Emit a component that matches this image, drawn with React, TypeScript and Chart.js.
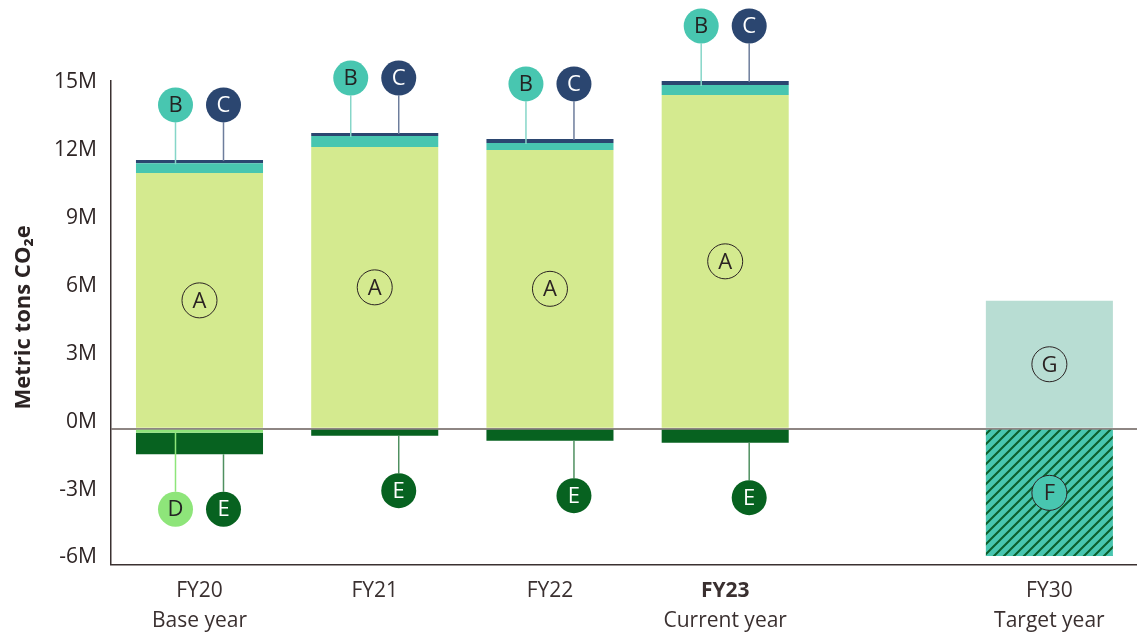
import React, { useEffect, useRef } from "react";
import { Chart, registerables } from "chart.js";

Chart.register(...registerables);

// ---------- data ----------
const categories = ["FY20", "FY21", "FY22", "FY23", "FY30"];
const subLabels = ["Base year", "", "", "Current year", "Target year"];
const emphasized = [false, false, false, true, false];
const yTitle = "Metric tons CO₂e";

// values in millions of metric tons CO2e
const seriesA = [11.3, 12.45, 12.32, 14.75, null];
const seriesB = [0.43, 0.49, 0.31, 0.44, null];
const seriesC = [0.15, 0.13, 0.18, 0.18, null];
const seriesD = [-0.18, null, null, null, null];
const seriesE = [-0.95, -0.31, -0.53, -0.62, null];
const seriesG = [null, null, null, null, 5.65];
const seriesF = [null, null, null, null, -5.63];

const yTickValues = [-6, -3, 0, 3, 6, 9, 12, 15];

// ---------- layout (slot of each category on the x axis) ----------
const xSlots = [0, 1, 2, 3, 4.85];
const X_MIN = -0.505;
const X_MAX = 5.35;
const Y_MIN = -6;
const Y_MAX = 15.4;

const FONT = "'Open Sans', 'Noto Sans', sans-serif";
const TEXT = "#2b2323";

type Marker = {
  mode: "inside" | "above" | "below";
  dx?: number;
  fill?: string | null;
  text: string;
  line?: string;
  outline?: string | null;
};

const markerStyles: Record<string, Marker> = {
  A: { mode: "inside", fill: null, text: TEXT, outline: TEXT },
  B: { mode: "above", dx: -24, fill: "#48c6b0", text: "#232323", line: "#86d6c8" },
  C: { mode: "above", dx: 24, fill: "#2b4670", text: "#ffffff", line: "#6d7d9c" },
  D: { mode: "below", dx: -24, fill: "#8ee57a", text: "#232323", line: "#8ee57a" },
  E: { mode: "below", dx: 24, fill: "#076220", text: "#ffffff", line: "#4f9060" },
  G: { mode: "inside", fill: null, text: TEXT, outline: TEXT },
  F: { mode: "inside", fill: "#48c6b0", text: TEXT, outline: TEXT },
};

const segColors: Record<string, string> = {
  A: "#d4ea8f",
  B: "#48c6b0",
  C: "#2b4670",
  D: "#8ee57a",
  E: "#076220",
  G: "#b8ddd3",
};

const MARK_R = 17.5;
const MARK_GAP = 55;

const markerPlugin = {
  id: "markers",
  afterDraw(chart: any) {
    const ctx: CanvasRenderingContext2D = chart.ctx;
    const n = categories.length;
    const tops: number[] = new Array(n).fill(Infinity);
    const bottoms: number[] = new Array(n).fill(-Infinity);
    chart.data.datasets.forEach((ds: any, di: number) => {
      const meta = chart.getDatasetMeta(di);
      meta.data.forEach((bar: any, i: number) => {
        const v = ds.data[i].y;
        if (v == null) return;
        if (v > 0) tops[i] = Math.min(tops[i], bar.y);
        else bottoms[i] = Math.max(bottoms[i], bar.y);
      });
    });

    const circles: any[] = [];
    ctx.save();
    chart.data.datasets.forEach((ds: any, di: number) => {
      const st = markerStyles[ds.label];
      const meta = chart.getDatasetMeta(di);
      meta.data.forEach((bar: any, i: number) => {
        const v = ds.data[i].y;
        if (v == null) return;
        const p = bar.getProps(["x", "y", "base"], true);
        let cx = p.x;
        let cy = (p.y + p.base) / 2;
        if (st.mode === "above") {
          cx = p.x + (st.dx || 0);
          cy = tops[i] - MARK_GAP;
          ctx.strokeStyle = st.line!;
          ctx.lineWidth = 1.5;
          ctx.beginPath();
          ctx.moveTo(cx, cy + MARK_R);
          ctx.lineTo(cx, p.y + 1);
          ctx.stroke();
        } else if (st.mode === "below") {
          cx = p.x + (st.dx || 0);
          cy = bottoms[i] + MARK_GAP;
          ctx.strokeStyle = st.line!;
          ctx.lineWidth = 1.5;
          ctx.beginPath();
          ctx.moveTo(cx, cy - MARK_R);
          ctx.lineTo(cx, p.y);
          ctx.stroke();
        }
        circles.push({ cx, cy, st, letter: ds.label });
      });
    });

    circles.forEach(({ cx, cy, st, letter }) => {
      ctx.beginPath();
      ctx.arc(cx, cy, MARK_R, 0, Math.PI * 2);
      if (st.fill) {
        ctx.fillStyle = st.fill;
        ctx.fill();
      }
      if (st.outline) {
        ctx.strokeStyle = st.outline;
        ctx.lineWidth = 1;
        ctx.stroke();
      }
      ctx.fillStyle = st.text;
      ctx.font = `22px ${FONT}`;
      ctx.textAlign = "center";
      ctx.textBaseline = "middle";
      ctx.fillText(letter, cx, cy + 1);
    });

    // category labels
    const xs = chart.scales.x;
    const bottom = chart.chartArea.bottom;
    categories.forEach((c, i) => {
      const px = xs.getPixelForValue(xSlots[i]);
      ctx.fillStyle = "#3a3030";
      ctx.textAlign = "center";
      ctx.textBaseline = "alphabetic";
      ctx.font = `${emphasized[i] ? "bold " : ""}21px ${FONT}`;
      ctx.fillText(c, px, bottom + 32.5);
      if (subLabels[i]) {
        ctx.font = `21px ${FONT}`;
        ctx.fillText(subLabels[i], px, bottom + 62.5);
      }
    });

    // y-axis title
    const { top: aTop, bottom: aBottom } = chart.chartArea;
    ctx.translate(24, (aTop + aBottom) / 2 - 5);
    ctx.rotate(-Math.PI / 2);
    ctx.fillStyle = TEXT;
    ctx.font = `bold 22px ${FONT}`;
    ctx.textAlign = "center";
    ctx.textBaseline = "middle";
    ctx.fillText(yTitle, 0, 0);
    ctx.restore();
  },
};

function makeHatch(): CanvasPattern | string {
  const tile = document.createElement("canvas");
  tile.width = 10;
  tile.height = 10;
  const t = tile.getContext("2d");
  if (!t) return "#48c6b0";
  t.fillStyle = "#48c6b0";
  t.fillRect(0, 0, 10, 10);
  t.strokeStyle = "#0b5e2c";
  t.lineWidth = 2;
  t.beginPath();
  t.moveTo(0, 10);
  t.lineTo(10, 0);
  t.moveTo(-5, 5);
  t.lineTo(5, -5);
  t.moveTo(5, 15);
  t.lineTo(15, 5);
  t.stroke();
  return t.createPattern(tile, "repeat") || "#48c6b0";
}

export default function App() {
  const canvasRef = useRef<HTMLCanvasElement | null>(null);

  useEffect(() => {
    document.body.style.margin = "0";
    const canvas = canvasRef.current;
    if (!canvas) return;

    Chart.defaults.font.family = FONT;
    Chart.defaults.color = TEXT;

    const hatch = makeHatch();
    const toPoints = (arr: (number | null)[]) =>
      arr.map((v, i) => ({ x: xSlots[i], y: v }));

    const seriesList: [string, (number | null)[]][] = [
      ["A", seriesA],
      ["B", seriesB],
      ["C", seriesC],
      ["D", seriesD],
      ["E", seriesE],
      ["G", seriesG],
      ["F", seriesF],
    ];

    const datasets = seriesList.map(([name, arr]) => ({
      label: name,
      data: toPoints(arr),
      backgroundColor: name === "F" ? hatch : segColors[name],
      borderWidth: 0,
      stack: "total",
      categoryPercentage: 1,
      barPercentage: 0.725,
      clip: false as any,
    }));

    const chart = new Chart(canvas, {
      type: "bar",
      data: { datasets: datasets as any },
      options: {
        animation: false,
        responsive: true,
        maintainAspectRatio: false,
        layout: { padding: { top: 80.3, bottom: 68.6, left: 0, right: 0 } },
        plugins: {
          legend: { display: false },
          tooltip: { enabled: false },
        },
        scales: {
          x: {
            type: "linear",
            stacked: true,
            offset: false,
            min: X_MIN,
            max: X_MAX,
            afterBuildTicks: (scale: any) => {
              scale.ticks = xSlots.map((v) => ({ value: v }));
            },
            grid: { display: false, drawTicks: false, tickLength: 0 },
            ticks: { display: false },
            border: { display: true, color: "#3b3131", width: 1.5 },
          },
          y: {
            stacked: true,
            min: Y_MIN,
            max: Y_MAX,
            z: 1,
            afterBuildTicks: (scale: any) => {
              scale.ticks = yTickValues.map((v) => ({ value: v }));
            },
            afterFit: (scale: any) => {
              scale.width = 111;
            },
            ticks: {
              padding: 14,
              labelOffset: -7,
              color: "#2e2525",
              font: { size: 21 },
              callback: (v: any) => `${v}M`,
            },
            grid: {
              drawTicks: false,
              color: (c: any) =>
                c.tick && c.tick.value === 0 ? "#8e8683" : "rgba(0,0,0,0)",
              lineWidth: (c: any) => (c.tick && c.tick.value === 0 ? 2 : 0),
            },
            border: { display: true, color: "#3b3131", width: 1.5 },
          },
        },
      },
      plugins: [markerPlugin],
    });

    return () => chart.destroy();
  }, []);

  return (
    <div style={{ width: 1137, height: 633, position: "relative" }}>
      <canvas ref={canvasRef} />
    </div>
  );
}
